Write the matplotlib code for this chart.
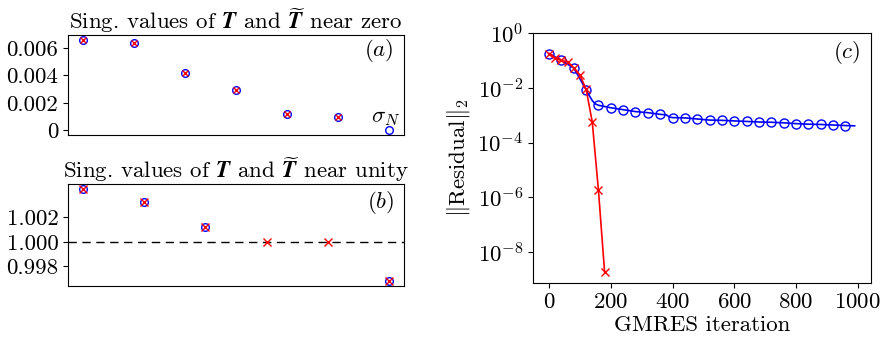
import matplotlib
matplotlib.use("Agg")
import matplotlib.pyplot as plt
import matplotlib.ticker as mticker
import numpy as np

plt.rcParams['font.family'] = 'cmr10'
plt.rcParams['mathtext.fontset'] = 'cm'
plt.rcParams['axes.formatter.use_mathtext'] = True
plt.rcParams['axes.unicode_minus'] = True

FS = 16.5

# ---- Panel (a): singular values near zero ----
a_T_idx = [1, 2, 3, 4, 5, 6, 7]
a_T_vals = [0.00660, 0.00636, 0.00418, 0.00292, 0.00118, 0.00099, 0.0]
a_Tt_idx = [1, 2, 3, 4, 5, 6]
a_Tt_vals = [0.00660, 0.00636, 0.00418, 0.00292, 0.00118, 0.00099]
a_yticks = [0, 0.002, 0.004, 0.006]
a_yticklabels = ['0', '0.002', '0.004', '0.006']

# ---- Panel (b): singular values near unity ----
b_T_idx = [1, 2, 3, 6]
b_T_vals = [1.00432, 1.00325, 1.00121, 0.99678]
b_Tt_idx = [1, 2, 3, 4, 5, 6]
b_Tt_vals = [1.00432, 1.00325, 1.00121, 1.0000, 1.0000, 0.99678]
b_yticks = [0.998, 1.000, 1.002]
b_yticklabels = ['0.998', '1.000', '1.002']

# ---- Panel (c): GMRES residuals ----
blue_line_it = [0, 40, 80, 120, 130, 140, 150, 160, 200, 240, 280, 320, 360, 380, 390, 400,
                440, 480, 520, 560, 600, 640, 680, 720, 760, 800, 840, 880, 920, 960, 990]
blue_line_log = [-0.75, -1.00, -1.28, -2.07, -2.28, -2.47, -2.59, -2.64, -2.73, -2.80, -2.87,
                 -2.91, -2.97, -2.99, -3.07, -3.09, -3.10, -3.14, -3.18, -3.19, -3.21, -3.23,
                 -3.25, -3.26, -3.28, -3.31, -3.33, -3.34, -3.36, -3.38, -3.39]
blue_mark_it = [0, 40, 80, 120, 160, 200, 240, 280, 320, 360, 400, 440, 480, 520, 560, 600,
                640, 680, 720, 760, 800, 840, 880, 920, 960]
blue_mark_log = [-0.75, -1.00, -1.28, -2.07, -2.64, -2.73, -2.80, -2.87, -2.91, -2.97, -3.09,
                 -3.10, -3.14, -3.18, -3.19, -3.21, -3.23, -3.25, -3.26, -3.28, -3.31, -3.33,
                 -3.34, -3.36, -3.38]
red_it = [0, 20, 40, 60, 80, 100, 120, 140, 160, 180]
red_log = [-0.75, -0.92, -1.00, -1.06, -1.28, -1.54, -2.05, -3.25, -5.74, -8.74]
c_yticks = [1e-8, 1e-6, 1e-4, 1e-2, 1e0]
c_xticks = [0, 200, 400, 600, 800, 1000]

W, H = 882, 338
fig = plt.figure(figsize=(W / 100, H / 100), dpi=100)

def px_axes(l, t, r, b):
    return fig.add_axes([l / W, (H - b) / H, (r - l) / W, (b - t) / H])

axA = px_axes(68, 35, 404, 135)
axB = px_axes(68, 184, 404, 286)
axC = px_axes(533, 33, 871, 283)

Tsym = r'$\mathbfit{T}$'
Ttsym = r'$\widetilde{\mathbfit{T}}$'

# Panel (a)
axA.plot(a_T_idx, a_T_vals, 'o', mfc='none', mec='blue', ms=5.5, mew=1.0)
axA.plot(a_Tt_idx, a_Tt_vals, 'x', color='red', ms=5, mew=1.0)
axA.set_xticks([])
axA.set_yticks(a_yticks)
axA.set_yticklabels(a_yticklabels, fontsize=FS)
axA.set_title('Sing. values of ' + Tsym + ' and ' + Ttsym + ' near zero', fontsize=FS, pad=3)
axA.text(0.97, 0.85, r'$(a)$', transform=axA.transAxes, ha='right', va='center', fontsize=FS)
axA.annotate(r'$\sigma_N$', xy=(a_T_idx[-1], a_T_vals[-1]), xytext=(-3, 12),
             textcoords='offset pixels', ha='center', va='center', fontsize=FS)

# Panel (b)
axB.axhline(1.0, color='black', ls='--', lw=1.0, dashes=(6, 4))
axB.plot(b_T_idx, b_T_vals, 'o', mfc='none', mec='blue', ms=5.5, mew=1.0)
axB.plot(b_Tt_idx, b_Tt_vals, 'x', color='red', ms=5.5, mew=1.0)
axB.set_xticks([])
axB.set_yticks(b_yticks)
axB.set_yticklabels(b_yticklabels, fontsize=FS)
axB.set_title('Sing. values of ' + Tsym + ' and ' + Ttsym + ' near unity', fontsize=FS, pad=3)
axB.text(0.97, 0.82, r'$(b)$', transform=axB.transAxes, ha='right', va='center', fontsize=FS)

# Panel (c)
axC.semilogy(blue_line_it, [10 ** v for v in blue_line_log], '-', color='blue', lw=1.2)
axC.semilogy(blue_mark_it, [10 ** v for v in blue_mark_log], 'o', mfc='none', mec='blue',
             ms=6.5, mew=1.0)
axC.semilogy(red_it, [10 ** v for v in red_log], '-x', color='red', lw=1.2, ms=6, mew=1.0)
axC.set_xlim(-52, 1043)
axC.set_ylim(10 ** -9.13, 1.0)
axC.set_yticks(c_yticks)
axC.yaxis.set_minor_locator(mticker.NullLocator())
axC.set_xticks(c_xticks)
axC.tick_params(labelsize=FS)
axC.set_xlabel('GMRES iteration', fontsize=FS, labelpad=2)
axC.set_ylabel(r'$\|\mathrm{Residual}\|_2$', fontsize=FS, labelpad=4)
axC.text(0.97, 0.92, r'$(c)$', transform=axC.transAxes, ha='right', va='center', fontsize=FS)

fig.savefig('out.png', dpi=100)
